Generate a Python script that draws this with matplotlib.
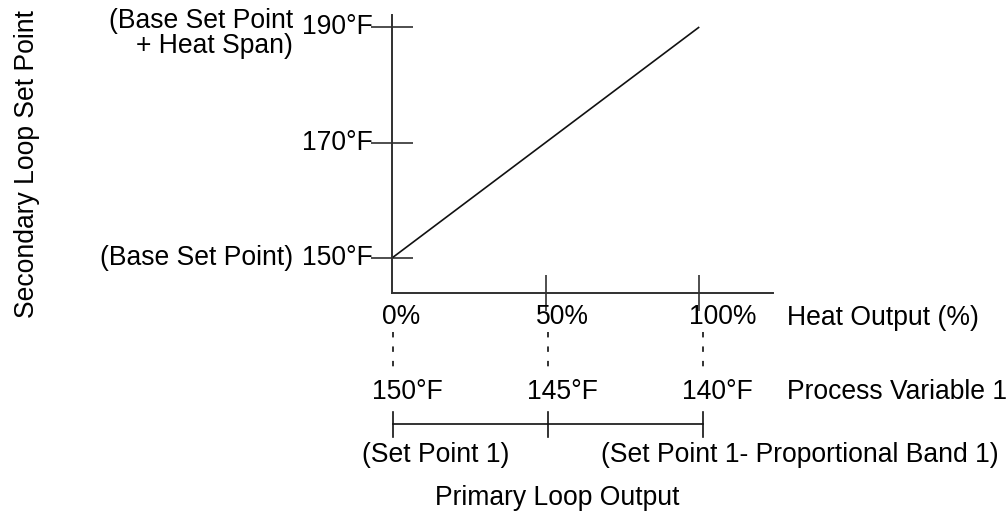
import matplotlib
matplotlib.use("Agg")
import matplotlib.pyplot as plt

plt.rcParams["font.family"] = ["Liberation Sans", "DejaVu Sans"]
FS = 19.1

# Reset curve: heat output (%) vs secondary loop set point (°F)
heat_pct = [0, 100]
sec_setpoint = [150, 190]

y_ticks = [150, 170, 190]
y_tick_labels = ["150°F", "170°F", "190°F"]
x_ticks = [0, 50, 100]
x_tick_labels = ["0%", "50%", "100%"]

# Primary loop process variable corresponding to each heat output tick
pv_vals = [150, 145, 140]
pv_labels = ["150°F", "145°F", "140°F"]
band_captions = ["(Set Point 1)", "(Set Point 1- Proportional Band 1)"]

W, H = 1007, 519
fig = plt.figure(figsize=(W / 100, H / 100), dpi=100)

def box(x0, y0, x1, y1):
    """Figure-fraction rectangle from pixel corners (top-left origin)."""
    return [x0 / W, 1 - y1 / H, (x1 - x0) / W, (y1 - y0) / H]

# ---- main reset chart ----
ax = fig.add_axes(box(392, 15, 773, 293))
ax.set_xlim(0, 124)
ax.set_ylim(143.94, 192.08)
for s in ("top", "right"):
    ax.spines[s].set_visible(False)
for s in ("left", "bottom"):
    ax.spines[s].set_linewidth(1.4)
    ax.spines[s].set_color("#303030")
ax.patch.set_alpha(0)

ax.plot(heat_pct, sec_setpoint, color="#111111", lw=1.2, solid_capstyle="butt")

ax.set_yticks(y_ticks)
ax.set_xticks(x_ticks[1:])
ax.tick_params(axis="y", direction="inout", length=30, width=1.2, colors="#303030",
               labelleft=False)
ax.tick_params(axis="x", direction="inout", length=26, width=1.2, colors="#303030",
               labelbottom=False)

for v, lab in zip(y_ticks, y_tick_labels):
    ax.annotate(lab, xy=(0, v), xytext=(-19, 0), textcoords="offset pixels",
                ha="right", va="center", fontsize=FS)

ax.annotate("(Base Set Point)", xy=(0, y_ticks[0]), xytext=(-99, 0),
            textcoords="offset pixels", ha="right", va="center", fontsize=FS)
ax.annotate("(Base Set Point", xy=(0, y_ticks[-1]), xytext=(-99, 6),
            textcoords="offset pixels", ha="right", va="center", fontsize=FS)
ax.annotate("+ Heat Span)", xy=(0, y_ticks[-1]), xytext=(-99, -19),
            textcoords="offset pixels", ha="right", va="center", fontsize=FS)

for v, lab in zip(x_ticks, x_tick_labels):
    ax.annotate(lab, xy=(v, 143.94), xytext=(-10, -24), textcoords="offset pixels",
                ha="left", va="center", fontsize=FS)

fig.text(787 / W, 1 - 318 / H, "Heat Output (%)", ha="left", va="center", fontsize=FS)
fig.text(27 / W, 1 - 164 / H, "Secondary Loop Set Point", rotation=90,
         ha="center", va="center", fontsize=FS)

# ---- primary loop scale below ----
ax2 = fig.add_axes(box(393, 300, 703, 519))
ax2.set_xlim(pv_vals[0], pv_vals[-1])
ax2.set_ylim(519, 300)
ax2.axis("off")

for v in pv_vals:
    ax2.plot([v, v], [332, 367], color="#222222", lw=1.3,
             linestyle=(0, (3, 5)), clip_on=False)
for v, lab in zip(pv_vals, pv_labels):
    ax2.annotate(lab, xy=(v, 392), xytext=(-21, 0), textcoords="offset pixels",
                 ha="left", va="center", fontsize=FS)

ax2.plot([pv_vals[0], pv_vals[-1]], [424, 424], color="#111111", lw=1.2, clip_on=False)
for v in pv_vals:
    ax2.plot([v, v], [412, 437], color="#111111", lw=1.2, clip_on=False)

ax2.annotate(band_captions[0], xy=(pv_vals[0], 455), xytext=(-31, 0),
             textcoords="offset pixels", ha="left", va="center", fontsize=FS)
ax2.annotate(band_captions[1], xy=(pv_vals[-1], 455), xytext=(-102, 0),
             textcoords="offset pixels", ha="left", va="center", fontsize=FS)

fig.text(787 / W, 1 - 392 / H, "Process Variable 1", ha="left", va="center", fontsize=FS)
fig.text(557 / W, 1 - 498 / H, "Primary Loop Output", ha="center", va="center",
         fontsize=FS)

fig.savefig("out.png", dpi=100)
